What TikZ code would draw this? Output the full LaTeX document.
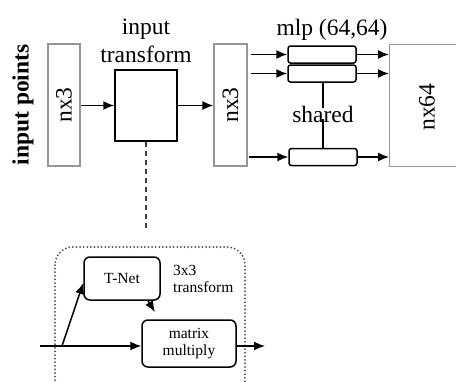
\documentclass[tikz,border=0pt]{standalone}
\usepackage{fontspec}
\setmainfont{Liberation Serif}
\usetikzlibrary{arrows.meta,calc}
\begin{document}
\begin{tikzpicture}[x=1pt,y=-1pt,
  big/.style={font=\fontsize{23.5}{26}\selectfont, inner sep=0pt},
  small/.style={font=\fontsize{15.5}{18}\selectfont, inner sep=0pt},
  graybox/.style={draw={rgb,255:red,150;green,150;blue,150}, line width=1.2pt, inner sep=0pt},
  blackbox/.style={draw=black, line width=1.5pt, inner sep=0pt},
  mlpbox/.style={draw=black, line width=1.5pt, rounded corners=2.5pt, inner sep=0pt, minimum width=68pt, minimum height=17pt},
  rbox/.style={draw=black, line width=1.5pt, rounded corners=6pt, inner sep=0pt, align=center},
  arr/.style={line width=1.5pt, -{Latex[length=11pt,width=9pt]}},
  ln/.style={line width=1.5pt}
]
\clip (0,0) rectangle (456,381);
\fill[white] (0,0) rectangle (456,381);

% top row
\node[rotate=90, big, font=\fontsize{23.5}{26}\selectfont\bfseries] (ip) at (23,105) {input points};
\node[graybox, minimum width=32pt, minimum height=122pt] (b1) at (64,105) {};
\node[big, rotate=90] (t1) at (b1) {nx3};
\node[blackbox, minimum width=62pt, minimum height=71pt] (it) at (146,105.5) {};
\node[big, anchor=base] (itl1) at (146,34) {input};
\node[big, anchor=base] (itl2) at (146,62) {transform};
\node[graybox, minimum width=33pt, minimum height=122pt] (b2) at (230.5,105) {};
\node[big, rotate=90] (t2) at (b2) {nx3};
\node[mlpbox] (m1) at (322,54.5) {};
\node[mlpbox] (m2) at (322,73.5) {};
\node[mlpbox] (m3) at (323,157) {};
\node[graybox, minimum width=81pt, minimum height=122pt, anchor=north west] (b3) at (389,44) {};
\node[big, rotate=90] (t3) at (427,107) {nx64};
\node[big, anchor=base] (mlp) at (332,35) {mlp (64,64)};
\node[big] (sh) at (323,114) {shared};

\draw[arr] (b1.east |- it) -- (it.west);
\draw[arr] (it.east) -- (b2.west |- it);
\draw[arr] ([xshift=3pt]b2.east |- m1) -- (m1.west);
\draw[arr] ([xshift=3pt]b2.east |- m2) -- (m2.west);
\draw[arr] ([xshift=1pt]b2.east |- m3) -- (m3.west);
\draw[arr] (m1.east) -- (b3.west |- m1);
\draw[arr] (m2.east) -- (b3.west |- m2);
\draw[arr] (m3.east) -- (b3.west |- m3);
\draw[ln] (m2.south -| sh) -- ([yshift=-2pt]sh.north);
\draw[ln] ([yshift=3pt]sh.south) -- (m3.north -| sh);

% dashed link
\coordinate (dend) at (146,230);
\draw[line width=1.3pt, dash pattern=on 5pt off 4pt, black!75] (it.south) -- (dend);

% detail
\draw[black!70, line width=2pt, dash pattern=on 0pt off 3.6pt, line cap=round, rounded corners=18pt] (55,247) rectangle (245,398);
\node[rbox, minimum width=76pt, minimum height=43pt, small] (tnet) at (122,278.5) {T-Net};
\node[rbox, minimum width=94pt, minimum height=47pt, small] (mm) at (189,343.5) {matrix\\[-1pt]multiply};
\node[small, anchor=west, align=left] (tr) at (173,279) {3x3\\[-1pt]transform};
\coordinate (in) at (40,346);
\coordinate (br) at (62,346);
\coordinate (out) at (265,346);
\coordinate (tip) at (155,312);
\draw[ln] (in) -- (br);
\draw[arr] (br) -- (mm.west |- br);
\draw[arr] (br) -- (tnet.west |- 0,283);
\draw[arr] ($(tnet.south)+(26,0)$) -- (tip);
\draw[arr] (mm.east |- out) -- (out);
\end{tikzpicture}
\end{document}
